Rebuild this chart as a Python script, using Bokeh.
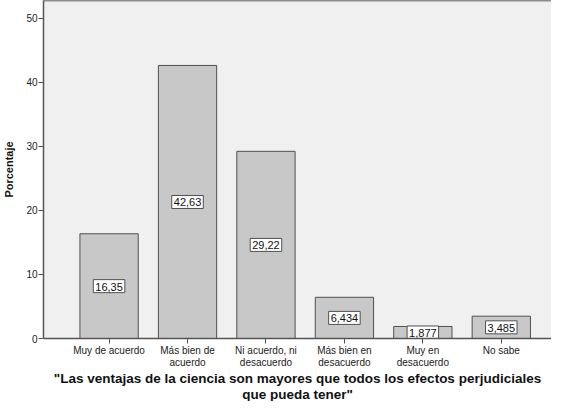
from bokeh.plotting import figure
from bokeh.models import ColumnDataSource, FixedTicker, Range1d, LinearAxis, Title
from bokeh.core.properties import value
from bokeh.embed import file_html
from bokeh.resources import INLINE

categories = ["Muy de acuerdo", "Más bien de\nacuerdo", "Ni acuerdo, ni\ndesacuerdo",
              "Más bien en\ndesacuerdo", "Muy en\ndesacuerdo", "No sabe"]
values = [16.35, 42.63, 29.22, 6.434, 1.877, 3.485]
value_labels = ["16,35", "42,63", "29,22", "6,434", "1,877", "3,485"]
y_ticks = [0, 10, 20, 30, 40, 50]
x_title_lines = ["\"Las ventajas de la ciencia son mayores que todos los efectos perjudiciales",
                 "que pueda tener\""]
y_title = "Porcentaje"

Y_MAX = 52.77

xs = list(range(len(categories)))
src = ColumnDataSource(dict(x=xs, top=values, mid=[v / 2 for v in values], lab=value_labels))

p = figure(width=551, height=401, output_backend="svg", toolbar_location=None,
           x_range=Range1d(-0.836, 5.64), y_range=Range1d(0, Y_MAX),
           min_border_left=43, min_border_right=0, min_border_top=0, min_border_bottom=0)

p.background_fill_color = "#f0f0f0"
p.border_fill_color = "white"
p.outline_line_color = None
p.xgrid.visible = False
p.ygrid.visible = False

top_axis = LinearAxis(ticker=FixedTicker(ticks=[]), major_tick_out=0, major_tick_in=0,
                      minor_tick_line_color=None, axis_line_color="#8c8c8c", axis_line_width=2,
                      major_label_text_font_size="1px")
p.add_layout(top_axis, "above")

p.vbar(x="x", top="top", bottom=0, width=0.743, source=src,
       fill_color="#c8c8c8", line_color="#505050", line_width=1)

p.text(x="x", y="mid", text="lab", source=src,
       text_align="center", text_baseline="middle",
       text_font=value("Liberation Sans"), text_font_size="11px", text_color="#111111",
       background_fill_color="white", border_line_color="#505050", border_line_width=1,
       padding=dict(left=2, right=2, top=3, bottom=2))

xax = p.below[0]
yax = p.left[0]
xax.ticker = FixedTicker(ticks=xs)
xax.major_label_overrides = {i: c for i, c in zip(xs, categories)}
yax.ticker = FixedTicker(ticks=y_ticks)

for ax in (xax, yax):
    ax.minor_tick_line_color = None
    ax.major_tick_in = 0
    ax.major_tick_out = 5
    ax.major_tick_line_color = "#555555"
    ax.axis_line_color = "#555555"
    ax.axis_line_width = 1.5
    ax.major_label_text_font = "Liberation Sans"
    ax.major_label_text_font_size = "10px"
    ax.major_label_text_color = "#222222"
    ax.major_label_text_line_height = 1.1
    ax.axis_label_text_font = "Liberation Sans"
    ax.axis_label_text_font_style = "bold"
    ax.axis_label_text_color = "#111111"

xax.major_label_standoff = 1

yax.axis_label = y_title
yax.axis_label_text_font_size = "11px"
yax.major_label_standoff = 1
yax.axis_label_standoff = 8

for line, so in zip(x_title_lines, [-3, 0]):
    p.add_layout(Title(text=line, align="center", offset=5, standoff=so,
                       text_font="Liberation Sans", text_font_style="bold",
                       text_font_size="13.5px", text_color="#111111",
                       text_line_height=0.9), "below")

open("out.html", "w").write(file_html(p, INLINE))
